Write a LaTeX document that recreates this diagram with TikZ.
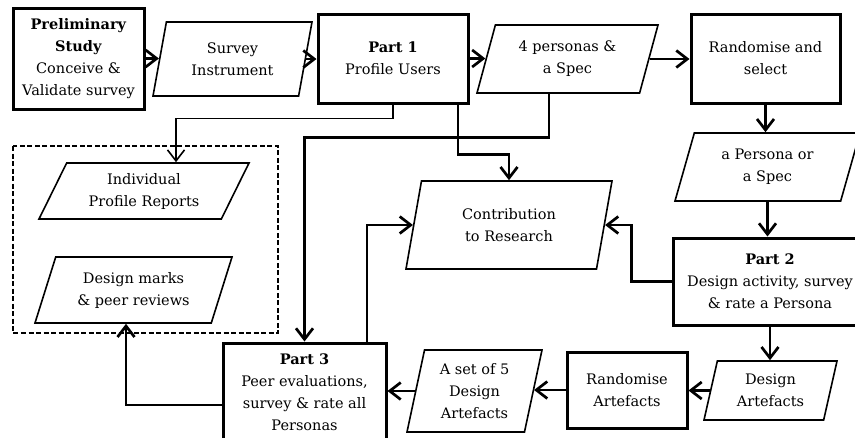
\documentclass[tikz,border=0pt]{standalone}
\usepackage{fontspec}
\setmainfont{DejaVu Serif}
\usetikzlibrary{shapes.geometric,arrows.meta,calc}
\begin{document}
\begin{tikzpicture}[x=1pt,y=-1pt,
  font=\fontsize{14.5}{22}\selectfont,
  proc/.style={draw,line width=3pt,align=center,inner sep=0pt},
  data/.style={draw,trapezium,trapezium stretches body,line width=1.6pt,align=center,inner sep=0pt},
  arr/.style={line width=2.7pt,-{Straight Barb[length=11pt,width=17pt]}}]
\useasboundingbox (0,0) rectangle (855,437);
\node[proc,minimum width=131,minimum height=101] (prelim) at (78.5,58.5) {\textbf{Preliminary}\\\textbf{Study}\\Conceive \&\\Validate survey};
\node[proc,minimum width=150,minimum height=89] (part1) at (393,58.5) {\textbf{Part 1}\\Profile Users};
\node[proc,minimum width=149,minimum height=89] (randsel) at (765.5,58.5) {Randomise and\\select};
\node[proc,minimum width=194,minimum height=87] (part2) at (770,281.5) {\textbf{Part 2}\\Design activity, survey\\\& rate a Persona};
\node[proc,minimum width=120,minimum height=76] (randart) at (627,390) {Randomise\\Artefacts};
\node[proc,minimum width=163,minimum height=98] (part3) at (304.5,392) {\textbf{Part 3}\\Peer evaluations,\\survey \& rate all\\Personas};
\node[data,minimum width=159,minimum height=74,trapezium left angle=67.9,trapezium right angle=112.1] (survey) at (232.5,59) {Survey\\Instrument};
\node[data,minimum width=181,minimum height=68,trapezium left angle=62.8,trapezium right angle=117.2] (personas) at (567.5,59) {4 personas \&\\a Spec};
\node[data,minimum width=185,minimum height=68,trapezium left angle=61.5,trapezium right angle=118.5] (persona) at (767.5,167) {a Persona or\\a Spec};
\node[data,minimum width=210,minimum height=56,trapezium left angle=52.5,trapezium right angle=127.5] (indiv) at (144,191) {Individual\\Profile Reports};
\node[data,minimum width=197,minimum height=66,trapezium left angle=60.1,trapezium right angle=119.9] (marks) at (133.5,290) {Design marks\\\& peer reviews};
\node[data,minimum width=206,minimum height=88,trapezium left angle=65,trapezium right angle=115] (contrib) at (509,225) {Contribution\\to Research};
\node[data,minimum width=135,minimum height=82,trapezium left angle=72.4,trapezium right angle=107.6] (set5) at (474.5,391) {A set of 5\\Design\\Artefacts};
\node[data,minimum width=133,minimum height=59,trapezium left angle=67.9,trapezium right angle=112.1] (desart) at (770.5,390.5) {Design\\Artefacts};
\draw[line width=2pt,dash pattern=on 5pt off 2.5pt] (13,146) rectangle (278,333);
\draw[arr] (prelim.east) -- (prelim.east -| survey.left side);
\draw[arr] (survey.right side) -- (survey.right side -| part1.west);
\draw[arr] (part1.east) -- (part1.east -| personas.left side);
\draw[arr] (personas.right side) -- (personas.right side -| randsel.west);
\draw[arr] (randsel.south) -- (randsel.south |- persona.north);
\draw[arr] (persona.south) -- (persona.south |- part2.north);
\draw[arr] (part2.south) -- (part2.south |- desart.north);
\draw[arr] (desart.left side) -- (desart.left side -| randart.east);
\draw[arr] (randart.west) -- (randart.west -| set5.right side);
\draw[arr] (set5.left side) -- (set5.left side -| part3.east);
\draw[arr] ($(part3.west)+(0,13)$) -| ($(marks.south)+(-7.5,0)$);
\draw[arr,line width=1.6pt] (part1.south) -- ++(0,14) -| ($(indiv.north)+(32,0)$);
\draw[arr] ($(part1.south)+(65,0)$) -- ++(0,50) -| (contrib.north);
\draw[arr] ($(personas.south)+(-18.5,0)$) -- ++(0,44) -| (part3.north);
\draw[arr] (part2.west) -- ++(-40,0) |- (contrib.right side);
\draw[arr] ($(part3.north)+(62.5,0)$) |- (contrib.left side);
\end{tikzpicture}
\end{document}
